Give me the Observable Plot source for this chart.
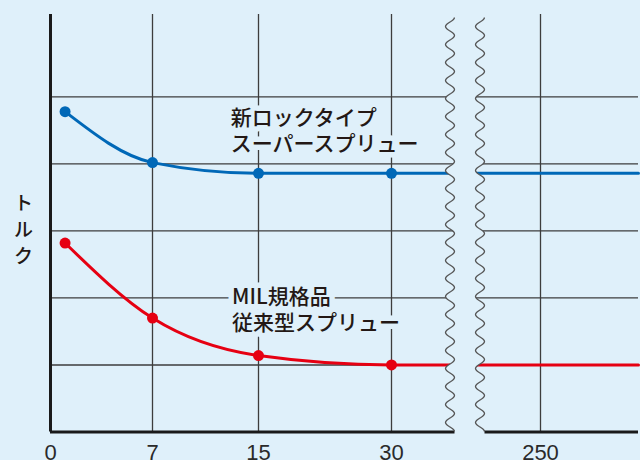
<!DOCTYPE html>
<html><head><meta charset="utf-8">
<script src="https://cdn.jsdelivr.net/npm/d3@7"></script>
<script src="https://cdn.jsdelivr.net/npm/@observablehq/plot@0.6"></script>
<style>
html,body{margin:0;padding:0;background:#dff0fa;}
#chart{width:640px;height:460px;overflow:hidden;}
</style></head><body><div id="chart"></div>
<script>
// ---- data ----
const days = [1, 7, 15, 30, 250];
const newLockTorque = [4.78, 4.02, 3.86, 3.86, 3.86];
const milTorque = [2.82, 1.70, 1.14, 1.0, 1.0];
const markerDays = [1, 7, 15, 30];
const xTicks = [0, 7, 15, 30, 250];
const xGridValues = [7, 15, 30, 250];
const yGridValues = [1, 2, 3, 4, 5];
const yLabel = "トルク";
const newLockLabel = ["新ロックタイプ", "スーパースプリュー"];
const milLabel = ["MIL規格品", "従来型スプリュー"];

// ---- style ----
const bg = "#dff0fa";
const blue = "#0068b7";
const red = "#e60012";
const gridColor = "#3d3d3d";
const textColor = "#231815";
const breakFrom = 60, breakTo = 200, xEnd = 300; // axis break bounds (scale domain)

const series = [
  {name: "newLock", values: newLockTorque, color: blue},
  {name: "mil", values: milTorque, color: red}
];
const lineRows = series.flatMap(s => {
  const rows = days.map((d, i) => ({series: s.name, day: d, v: s.values[i], color: s.color}));
  rows.push({series: s.name, day: xEnd, v: s.values[s.values.length - 1], color: s.color});
  return rows;
});
const dotRows = series.flatMap(s => days.map((d, i) => ({day: d, v: s.values[i], color: s.color}))
  .filter(r => markerDays.includes(r.day)));
const labelRows = [
  {x: 12.9, y: 4.515, text: newLockLabel.join("\n")},
  {x: 13.0, y: 1.843, text: milLabel.join("\n")}
];

const plot = Plot.plot({
  width: 640,
  height: 460,
  marginTop: 14,
  marginBottom: 28.5,
  marginLeft: 50,
  marginRight: 2,
  style: {background: bg, fontFamily: "'Noto Sans CJK JP', sans-serif", overflow: "visible"},
  x: {type: "linear", domain: [0, 7, 15, 30, breakFrom, breakTo, 250, xEnd],
      range: [50, 152, 258, 391, 450, 480, 540, 638], axis: null},
  y: {domain: [0, 6.23], axis: null},
  marks: [
    Plot.gridX(xGridValues, {stroke: gridColor, strokeOpacity: 1, strokeWidth: 1.3}),
    Plot.gridY(yGridValues, {stroke: gridColor, strokeOpacity: 1, strokeWidth: 1.3}),
    Plot.text(labelRows, {x: "x", y: "y", text: "text", textAnchor: "start", lineAnchor: "middle",
      lineHeight: 1.25, fontSize: 21, fontWeight: 500, fill: textColor, stroke: bg, strokeWidth: 11}),
    Plot.line(lineRows, {x: "day", y: "v", z: "series", stroke: "color", strokeWidth: 3, curve: "monotone-x"}),
    Plot.dot(dotRows, {x: "day", y: "v", fill: "color", r: 5.5}),
    Plot.ruleX([0], {stroke: "#1a1a1a", strokeWidth: 3}),
    Plot.ruleY([0], {stroke: "#1a1a1a", strokeWidth: 3}),
    Plot.axisX(xTicks, {tickSize: 0, tickPadding: 12, fontSize: 22, fill: "#2a2a2a",
      fontFamily: "'Liberation Sans', Arial, sans-serif", label: null}),
    Plot.text([yLabel], {frameAnchor: "left", dx: -27, dy: 5, text: d => d.split("").join("\n"),
      lineHeight: 1.4, fontSize: 19, fontWeight: 500, fill: textColor, textAnchor: "middle"})
  ]
});
document.getElementById("chart").appendChild(plot);

// ---- axis break decoration (wavy lines) ----
const xs = plot.scale("x");
const ys = plot.scale("y");
const leftX = xs.apply(breakFrom), rightX = xs.apply(breakTo);
const yBottom = ys.apply(0), yTop = ys.apply(6.23) + 3;
const amp = 4.5, period = 18;
function wave(cx, reverse) {
  const pts = [];
  for (let y = yBottom; y >= yTop; y -= 1) {
    pts.push([cx + amp * Math.cos(2 * Math.PI * (yBottom - y) / period), y]);
  }
  return reverse ? pts.reverse() : pts;
}
const leftPts = wave(leftX, true);   // top -> bottom
const rightPts = wave(rightX, false); // bottom -> top
const line = d3.line();
const svg = d3.select(plot);
const g = svg.append("g");
const maskPts = [[leftPts[0][0], yTop - 6], ...leftPts, [leftPts[leftPts.length - 1][0], yBottom + 3],
  [rightPts[0][0], yBottom + 3], ...rightPts, [rightPts[rightPts.length - 1][0], yTop - 6]];
g.append("path").attr("d", line(maskPts) + "Z").attr("fill", bg).attr("stroke", "none");
g.append("path").attr("d", line(leftPts)).attr("fill", "none").attr("stroke", "#555").attr("stroke-width", 1.3);
g.append("path").attr("d", line(rightPts)).attr("fill", "none").attr("stroke", "#555").attr("stroke-width", 1.3);
</script>
</body></html>
